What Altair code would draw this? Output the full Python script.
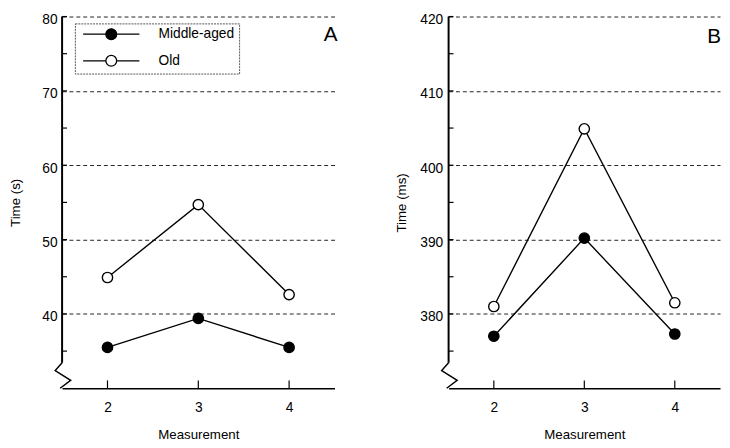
import altair as alt
import pandas as pd

# ---- data ----
measurements = [2, 3, 4]
groups = ["Middle-aged", "Old"]
a_middle = [35.5, 39.4, 35.5]
a_old = [44.9, 54.7, 42.6]
b_middle = [377.0, 390.2, 377.3]
b_old = [381.0, 404.9, 381.5]
a_major = [40, 50, 60, 70, 80]
a_minor = [35, 45, 55, 65, 75]
b_major = [380, 390, 400, 410, 420]
b_minor = [375, 385, 395, 405, 415]
a_domain = [30, 80]
b_domain = [370, 420]
x_domain = [1.5, 4.5]

FONT = "Liberation Sans"
H = 378
LEGEND_SYMBOL = "M-5.2,0H-1M1,0H5.2M1,0A1,1,0,1,1,-1,0A1,1,0,1,1,1,0Z"
BREAK_SYMBOL = "M0,-1L-0.54,-0.38L0.67,0.38L-0.15,1"


def panel(middle, old, major, minor, domain, ytitle, letter, width, show_legend,
          title_pad, label_pad, letter_x, letter_y):
    df = pd.DataFrame({
        "Measurement": measurements * 2,
        "Time": middle + old,
        "Group": [groups[0]] * len(measurements) + [groups[1]] * len(measurements),
    })
    xs = alt.Scale(domain=x_domain, nice=False, zero=False)
    ys = alt.Scale(domain=domain, nice=False, zero=False)
    x_axis = alt.Axis(values=measurements, format="d", tickSize=0, domain=True,
                      domainColor="black", domainWidth=1.5, grid=False,
                      labelPadding=13, title="Measurement", titlePadding=13,
                      labelFontSize=14, titleFontSize=13.5, titleFontWeight="normal",
                      labelColor="black", titleColor="black", labelFont=FONT,
                      titleFont=FONT)
    y_axis = alt.Axis(values=major, format="d", tickSize=0, domain=False, grid=True,
                      gridDash=[4, 3], gridColor="#222", gridWidth=1,
                      labelPadding=label_pad, labelOffset=3, title=ytitle,
                      titlePadding=title_pad,
                      labelFontSize=14, titleFontSize=13.5, titleFontWeight="normal",
                      labelColor="black", titleColor="black", labelFont=FONT,
                      titleFont=FONT)

    x = alt.X("Measurement:Q", scale=xs, axis=x_axis)
    y = alt.Y("Time:Q", scale=ys, axis=y_axis)

    lines = alt.Chart(df).mark_line(color="black", strokeWidth=1.4).encode(
        x=x, y=y, detail="Group:N")

    if show_legend:
        legend = alt.Legend(title=None, orient="none", legendX=13, legendY=7,
                            padding=4, strokeColor="#555", fillColor="white",
                            symbolType=LEGEND_SYMBOL, symbolSize=121,
                            symbolStrokeColor="black", symbolStrokeWidth=1.3,
                            symbolOffset=26, labelOffset=41, rowPadding=9,
                            labelFontSize=14, labelFont=FONT, labelColor="black")
    else:
        legend = None

    points = alt.Chart(df).mark_point(
        filled=True, shape="circle", size=110, stroke="black", strokeWidth=1.4,
        opacity=1).encode(
        x=x, y=y,
        fill=alt.Fill("Group:N", scale=alt.Scale(domain=groups, range=["black", "white"]),
                      legend=legend))

    yt = alt.Chart(pd.DataFrame({"Time": major + minor})).mark_rule(
        color="black", strokeWidth=1.2).encode(
        y=y, x=alt.value(0), x2=alt.value(5))

    xt = alt.Chart(pd.DataFrame({"Measurement": measurements})).mark_rule(
        color="black", strokeWidth=1.2).encode(
        x=x, y=alt.value(H), y2=alt.value(H - 8))

    one = pd.DataFrame({"k": [0]})
    yline = alt.Chart(one).mark_rule(color="black", strokeWidth=2).encode(
        x=alt.value(0), y=alt.value(0), y2=alt.value(H - 26))
    zig = alt.Chart(one).mark_point(shape=BREAK_SYMBOL, size=676, stroke="black",
                                    strokeWidth=1.5, filled=False, opacity=1).encode(
        x=alt.value(0), y=alt.value(H - 13))
    lab = alt.Chart(one).mark_text(text=letter, fontSize=21, align="right",
                                   baseline="alphabetic", font=FONT, color="black").encode(
        x=alt.value(letter_x), y=alt.value(letter_y))

    return alt.layer(lines, points, yt, xt, yline, zig, lab).properties(
        width=width, height=H)


pa = panel(a_middle, a_old, a_major, a_minor, a_domain, "Time (s)", "A", 277, True,
           20, 5, 280, 25)
pb = panel(b_middle, b_old, b_major, b_minor, b_domain, "Time (ms)", "B", 276, False,
           11, 6, 277, 27)

chart = alt.hconcat(pa, pb, spacing=58).resolve_scale(
    x="independent", y="independent", fill="independent"
).resolve_legend(fill="independent").configure_view(stroke=None).configure_legend(
    strokeDash=[2, 1]
).properties(padding={"left": 0, "top": 1, "right": 1, "bottom": 0})

chart.save("out.html", embed_options={"renderer": "svg", "actions": False})
